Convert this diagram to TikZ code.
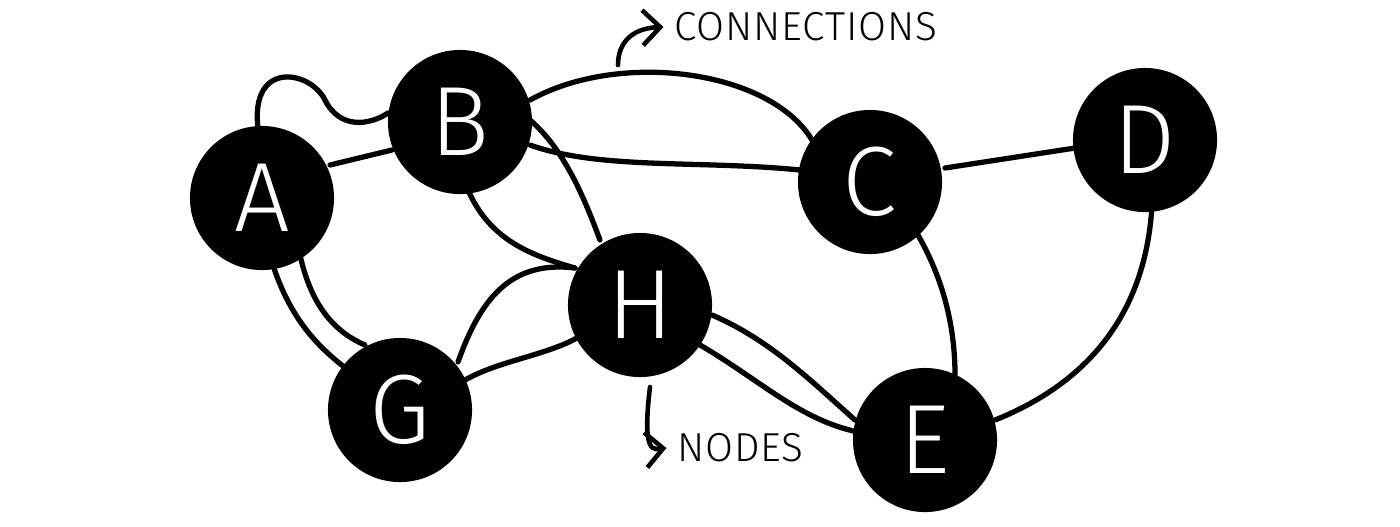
\documentclass[tikz,border=0pt]{standalone}
\usepackage{fontspec}
\setmainfont{Fira Sans Light}
\usetikzlibrary{arrows.meta}
\begin{document}
\begin{tikzpicture}[x=0.01cm,y=-0.01cm,
  nd/.style={circle,fill=black,minimum size=1.44cm,inner sep=0,text=white,font=\fontsize{28}{28}\selectfont},
  ed/.style={line width=1.5pt,line cap=round},
  lbl/.style={font=\fontsize{11.5}{12}\selectfont\addfontfeature{LetterSpace=2},anchor=west,inner sep=0}]
\useasboundingbox (0,0) rectangle (1400,526);
% edges first
\coordinate (a1) at (258,128); \coordinate (b1) at (388,113);
\draw[ed] (a1) .. controls (250,60) and (310,70) .. (325,100) .. controls (340,130) and (370,125) .. (b1);
\draw[ed] (330,165) -- (392,150);
\draw[ed] (530,100) .. controls (620,50) and (770,70) .. (812,140);
\draw[ed] (530,145) .. controls (600,170) and (700,160) .. (800,170);
\draw[ed] (530,120) .. controls (565,150) and (585,200) .. (600,240);
\draw[ed] (468,190) .. controls (490,240) and (530,255) .. (575,268);
\draw[ed] (272,262) .. controls (290,320) and (320,350) .. (355,375);
\draw[ed] (300,255) .. controls (310,300) and (330,330) .. (365,345);
\draw[ed] (458,362) .. controls (480,300) and (510,260) .. (575,268);
\draw[ed] (465,380) .. controls (500,360) and (550,355) .. (582,335);
\draw[ed] (712,315) .. controls (770,340) and (810,380) .. (855,420);
\draw[ed] (700,345) .. controls (760,380) and (800,420) .. (858,432);
\draw[ed] (915,230) .. controls (945,280) and (955,330) .. (955,375);
\draw[ed] (945,168) -- (1075,148);
\draw[ed] (1152,205) .. controls (1145,330) and (1070,390) .. (995,420);
% nodes
\node[nd] (A) at (262,198) {A};
\node[nd] (B) at (460,122) {B};
\node[nd] (C) at (870,182) {C};
\node[nd] (D) at (1145,140) {D};
\node[nd] (H) at (640,305) {H};
\node[nd] (G) at (400,410) {G};
\node[nd] (E) at (925,440) {E};
% annotations
\node[lbl] (cn) at (674,27) {CONNECTIONS};
\node[lbl] (nn) at (677,448) {NODES};
\coordinate (c0) at (618,65);
\coordinate (n0) at (650,387);
\draw[ed,line width=1.3pt,-{Straight Barb[length=5pt]}] (c0) .. controls (618,40) and (635,28) .. ([xshift=-3pt]cn.west);
\draw[ed,line width=1.3pt,-{Straight Barb[length=5pt]}] (n0) .. controls (646,420) and (645,449) .. (656,449) -- ([xshift=-3pt]nn.west);
\end{tikzpicture}
\end{document}
